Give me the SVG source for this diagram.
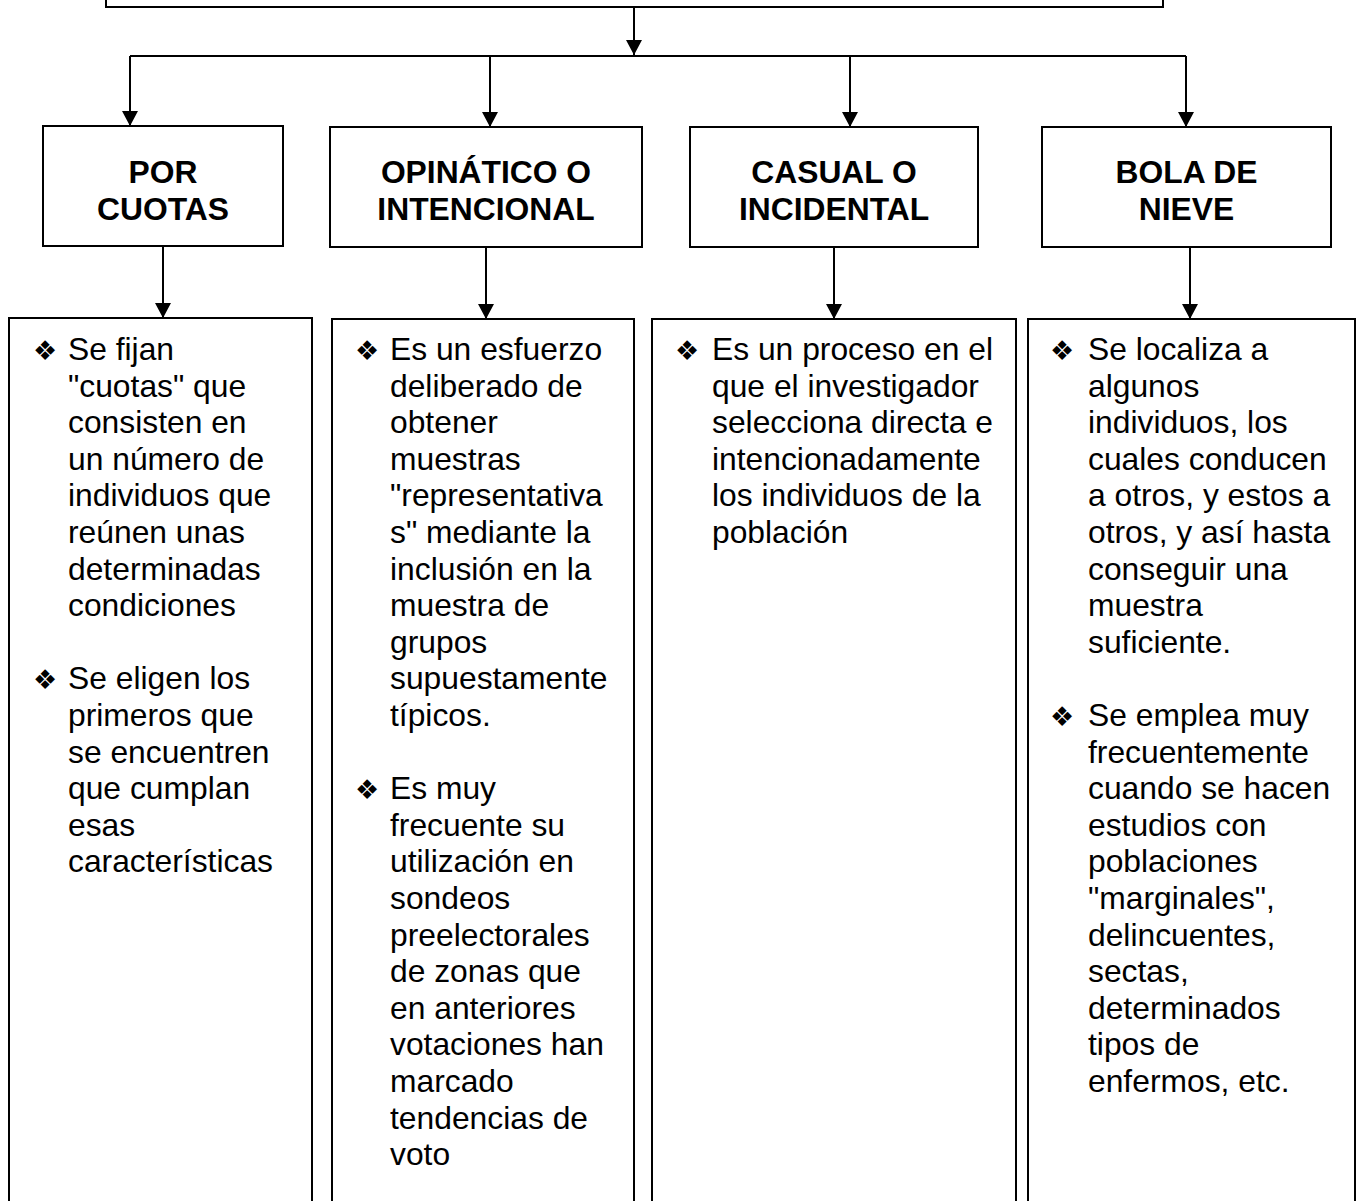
<svg xmlns="http://www.w3.org/2000/svg" width="1362" height="1201" viewBox="0 0 1362 1201">
  <style>
    .box { fill: #ffffff; stroke: #000000; stroke-width: 2; }
    .wire { fill: none; stroke: #000000; stroke-width: 2; }
    .head { font-family: "Liberation Sans", Arial, sans-serif; font-size: 31.8px; font-weight: bold; fill: #000000; text-anchor: middle; }
    .body { font-family: "Liberation Sans", Arial, sans-serif; font-size: 31.8px; fill: #000000; }
    .bul { font-family: "DejaVu Sans", sans-serif; font-size: 27px; fill: #000000; }
  </style>
  <defs>
    <marker id="arrow" markerUnits="userSpaceOnUse" markerWidth="16" markerHeight="16" refX="15" refY="8" orient="auto" overflow="visible">
      <path d="M0,0 L15,8 L0,16 z" fill="#000000"/>
    </marker>
  </defs>
  <rect width="1362" height="1201" fill="#ffffff"/>

  <!-- root box (only its lower edge is in view) -->
  <g id="root">
    <rect class="box" x="106" y="-60" width="1057" height="67"/>
  </g>

  <!-- connectors -->
  <g id="connectors">
    <path class="wire" d="M634,7 V55" marker-end="url(#arrow)"/>
    <path class="wire" d="M130,56 H1186"/>
    <path class="wire" d="M130,56 V126" marker-end="url(#arrow)"/>
    <path class="wire" d="M490,56 V127" marker-end="url(#arrow)"/>
    <path class="wire" d="M850,56 V127" marker-end="url(#arrow)"/>
    <path class="wire" d="M1186,56 V127" marker-end="url(#arrow)"/>
    <path class="wire" d="M163,246 V318" marker-end="url(#arrow)"/>
    <path class="wire" d="M486,247 V319" marker-end="url(#arrow)"/>
    <path class="wire" d="M834,247 V319" marker-end="url(#arrow)"/>
    <path class="wire" d="M1190,247 V319" marker-end="url(#arrow)"/>
  </g>

  <!-- category boxes -->
  <g id="cuotas">
    <rect class="box" x="43" y="126" width="240" height="120"/>
    <text class="head" x="163" y="183">POR</text>
    <text class="head" x="163" y="220">CUOTAS</text>
  </g>
  <g id="opinatico">
    <rect class="box" x="330" y="127" width="312" height="120"/>
    <text class="head" x="486" y="183">OPINÁTICO O</text>
    <text class="head" x="486" y="220">INTENCIONAL</text>
  </g>
  <g id="casual">
    <rect class="box" x="690" y="127" width="288" height="120"/>
    <text class="head" x="834" y="183">CASUAL O</text>
    <text class="head" x="834" y="220">INCIDENTAL</text>
  </g>
  <g id="bola">
    <rect class="box" x="1042" y="127" width="289" height="120"/>
    <text class="head" x="1186.5" y="183">BOLA DE</text>
    <text class="head" x="1186.5" y="220">NIEVE</text>
  </g>

  <!-- description boxes -->
  <g id="cuotas-desc">
    <rect class="box" x="9" y="318" width="303" height="940"/>
    <text class="bul" x="33" y="360">❖</text>
    <text class="body" y="360">
      <tspan x="68">Se fijan</tspan>
      <tspan x="68" dy="36.6">"cuotas" que</tspan>
      <tspan x="68" dy="36.6">consisten en</tspan>
      <tspan x="68" dy="36.6">un número de</tspan>
      <tspan x="68" dy="36.6">individuos que</tspan>
      <tspan x="68" dy="36.6">reúnen unas</tspan>
      <tspan x="68" dy="36.6">determinadas</tspan>
      <tspan x="68" dy="36.6">condiciones</tspan>
    </text>
    <text class="bul" x="33" y="689.4">❖</text>
    <text class="body" y="689.4">
      <tspan x="68">Se eligen los</tspan>
      <tspan x="68" dy="36.6">primeros que</tspan>
      <tspan x="68" dy="36.6">se encuentren</tspan>
      <tspan x="68" dy="36.6">que cumplan</tspan>
      <tspan x="68" dy="36.6">esas</tspan>
      <tspan x="68" dy="36.6">características</tspan>
    </text>
  </g>

  <g id="opinatico-desc">
    <rect class="box" x="332" y="319" width="302" height="940"/>
    <text class="bul" x="355" y="360">❖</text>
    <text class="body" y="360">
      <tspan x="390">Es un esfuerzo</tspan>
      <tspan x="390" dy="36.6">deliberado de</tspan>
      <tspan x="390" dy="36.6">obtener</tspan>
      <tspan x="390" dy="36.6">muestras</tspan>
      <tspan x="390" dy="36.6">"representativa</tspan>
      <tspan x="390" dy="36.6">s" mediante la</tspan>
      <tspan x="390" dy="36.6">inclusión en la</tspan>
      <tspan x="390" dy="36.6">muestra de</tspan>
      <tspan x="390" dy="36.6">grupos</tspan>
      <tspan x="390" dy="36.6">supuestamente</tspan>
      <tspan x="390" dy="36.6">típicos.</tspan>
    </text>
    <text class="bul" x="355" y="799.2">❖</text>
    <text class="body" y="799.2">
      <tspan x="390">Es muy</tspan>
      <tspan x="390" dy="36.6">frecuente su</tspan>
      <tspan x="390" dy="36.6">utilización en</tspan>
      <tspan x="390" dy="36.6">sondeos</tspan>
      <tspan x="390" dy="36.6">preelectorales</tspan>
      <tspan x="390" dy="36.6">de zonas que</tspan>
      <tspan x="390" dy="36.6">en anteriores</tspan>
      <tspan x="390" dy="36.6">votaciones han</tspan>
      <tspan x="390" dy="36.6">marcado</tspan>
      <tspan x="390" dy="36.6">tendencias de</tspan>
      <tspan x="390" dy="36.6">voto</tspan>
    </text>
  </g>

  <g id="casual-desc">
    <rect class="box" x="652" y="319" width="364" height="940"/>
    <text class="bul" x="675" y="360">❖</text>
    <text class="body" y="360">
      <tspan x="712">Es un proceso en el</tspan>
      <tspan x="712" dy="36.6">que el investigador</tspan>
      <tspan x="712" dy="36.6">selecciona directa e</tspan>
      <tspan x="712" dy="36.6">intencionadamente</tspan>
      <tspan x="712" dy="36.6">los individuos de la</tspan>
      <tspan x="712" dy="36.6">población</tspan>
    </text>
  </g>

  <g id="bola-desc">
    <rect class="box" x="1028" y="319" width="327" height="940"/>
    <text class="bul" x="1050" y="360">❖</text>
    <text class="body" y="360">
      <tspan x="1088">Se localiza a</tspan>
      <tspan x="1088" dy="36.6">algunos</tspan>
      <tspan x="1088" dy="36.6">individuos, los</tspan>
      <tspan x="1088" dy="36.6">cuales conducen</tspan>
      <tspan x="1088" dy="36.6">a otros, y estos a</tspan>
      <tspan x="1088" dy="36.6">otros, y así hasta</tspan>
      <tspan x="1088" dy="36.6">conseguir una</tspan>
      <tspan x="1088" dy="36.6">muestra</tspan>
      <tspan x="1088" dy="36.6">suficiente.</tspan>
    </text>
    <text class="bul" x="1050" y="726">❖</text>
    <text class="body" y="726">
      <tspan x="1088">Se emplea muy</tspan>
      <tspan x="1088" dy="36.6">frecuentemente</tspan>
      <tspan x="1088" dy="36.6">cuando se hacen</tspan>
      <tspan x="1088" dy="36.6">estudios con</tspan>
      <tspan x="1088" dy="36.6">poblaciones</tspan>
      <tspan x="1088" dy="36.6">"marginales",</tspan>
      <tspan x="1088" dy="36.6">delincuentes,</tspan>
      <tspan x="1088" dy="36.6">sectas,</tspan>
      <tspan x="1088" dy="36.6">determinados</tspan>
      <tspan x="1088" dy="36.6">tipos de</tspan>
      <tspan x="1088" dy="36.6">enfermos, etc.</tspan>
    </text>
  </g>
</svg>
